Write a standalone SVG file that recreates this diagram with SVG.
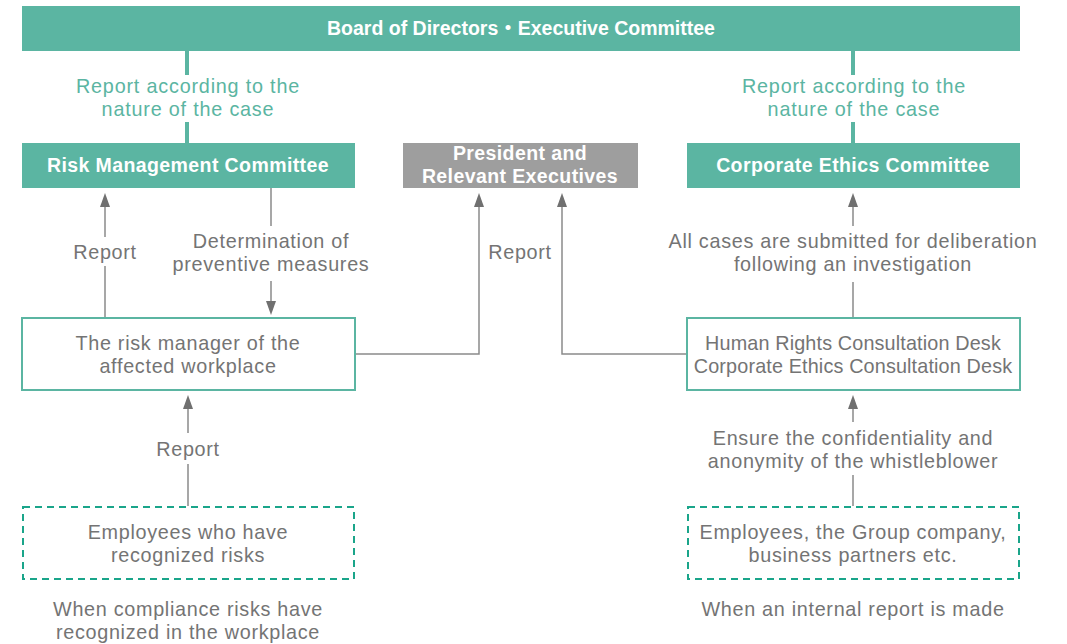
<svg xmlns="http://www.w3.org/2000/svg" width="1067" height="644" viewBox="0 0 1067 644">
<style>
.fill-g{fill:#5bb5a2}
.fill-p{fill:#9e9e9e}
.box{fill:#fff;stroke:#5bb5a2;stroke-width:2}
.dash{fill:#fff;stroke:#1aa58a;stroke-width:2;stroke-dasharray:7 5}
.tw{font-family:"Liberation Sans","Noto Sans CJK JP",sans-serif;font-weight:bold;font-size:19.5px;fill:#fff;text-anchor:middle;letter-spacing:0.4px}
.tb{letter-spacing:0}
.tg{font-family:"Liberation Sans",sans-serif;font-size:19.8px;fill:#747474;text-anchor:middle;letter-spacing:0.7px}
.tn{letter-spacing:0.15px}
.tgr{font-family:"Liberation Sans",sans-serif;font-size:19.8px;fill:#5bb5a2;text-anchor:middle;letter-spacing:0.8px}
.gl{stroke:#5bb5a2;stroke-width:4;fill:none}
.cl{stroke:#8a8a8a;stroke-width:1.5;fill:none}
</style>
<g id="connectors">
<line class="gl" x1="187" y1="51" x2="187" y2="75"/>
<line class="gl" x1="187" y1="122" x2="187" y2="143"/>
<line class="gl" x1="853" y1="51" x2="853" y2="75"/>
<line class="gl" x1="853" y1="122" x2="853" y2="143"/>
<line class="cl" x1="105" y1="237" x2="105" y2="207"/>
<polygon points="100,207 105,193 110,207" fill="#707070"/>
<line class="cl" x1="105" y1="266" x2="105" y2="318"/>
<line class="cl" x1="271" y1="188" x2="271" y2="226"/>
<line class="cl" x1="271" y1="281" x2="271" y2="301"/>
<polygon points="266,301 271,315 276,301" fill="#707070"/>
<polyline class="cl" points="355,354 479,354 479,207"/>
<polygon points="474,207 479,193 484,207" fill="#707070"/>
<polyline class="cl" points="687,354 562,354 562,207"/>
<polygon points="557,207 562,193 567,207" fill="#707070"/>
<line class="cl" x1="853" y1="318" x2="853" y2="282"/>
<line class="cl" x1="853" y1="226" x2="853" y2="207"/>
<polygon points="848,207 853,193 858,207" fill="#707070"/>
<line class="cl" x1="188" y1="506" x2="188" y2="464"/>
<line class="cl" x1="188" y1="433" x2="188" y2="409"/>
<polygon points="183,409 188,395 193,409" fill="#707070"/>
<line class="cl" x1="853" y1="506" x2="853" y2="475"/>
<line class="cl" x1="853" y1="422" x2="853" y2="409"/>
<polygon points="848,409 853,395 858,409" fill="#707070"/>
<text class="tgr" x="188" y="93">Report according to the</text>
<text class="tgr" x="188" y="116">nature of the case</text>
<text class="tgr" x="854" y="93">Report according to the</text>
<text class="tgr" x="854" y="116">nature of the case</text>
<text class="tg" x="105" y="259">Report</text>
<text class="tg" x="271" y="248">Determination of</text>
<text class="tg" x="271" y="271">preventive measures</text>
<text class="tg" x="520" y="259">Report</text>
<text class="tg" x="853" y="248">All cases are submitted for deliberation</text>
<text class="tg" x="853" y="271">following an investigation</text>
<text class="tg" x="188" y="456">Report</text>
<text class="tg" x="853" y="445">Ensure the confidentiality and</text>
<text class="tg" x="853" y="468">anonymity of the whistleblower</text>
</g>
<g id="board">
<rect class="fill-g" x="22" y="6" width="998" height="45"/>
<text class="tw tb" x="521" y="35">Board of Directors・Executive Committee</text>
</g>
<g id="risk-committee">
<rect class="fill-g" x="22" y="143" width="333" height="45"/>
<text class="tw" x="188" y="172">Risk Management Committee</text>
</g>
<g id="president">
<rect class="fill-p" x="403" y="143" width="235" height="45"/>
<text class="tw" x="520" y="160">President and</text>
<text class="tw" x="520" y="183">Relevant Executives</text>
</g>
<g id="ethics-committee">
<rect class="fill-g" x="687" y="143" width="333" height="45"/>
<text class="tw" x="853" y="172">Corporate Ethics Committee</text>
</g>
<g id="risk-manager">
<rect class="box" x="22" y="318" width="333" height="72"/>
<text class="tg" x="188" y="350">The risk manager of the</text>
<text class="tg" x="188" y="373">affected workplace</text>
</g>
<g id="desk">
<rect class="box" x="687" y="318" width="333" height="72"/>
<text class="tg tn" x="853" y="350">Human Rights Consultation Desk</text>
<text class="tg tn" x="853" y="373">Corporate Ethics Consultation Desk</text>
</g>
<g id="employees-risk">
<rect class="dash" x="23" y="507" width="331" height="72"/>
<text class="tg" x="188" y="539">Employees who have</text>
<text class="tg" x="188" y="562">recognized risks</text>
</g>
<g id="employees-group">
<rect class="dash" x="688" y="507" width="331" height="72"/>
<text class="tg" x="853" y="539">Employees, the Group company,</text>
<text class="tg" x="853" y="562">business partners etc.</text>
</g>
<g id="captions">
<text class="tg" x="188" y="616">When compliance risks have</text>
<text class="tg" x="188" y="639">recognized in the workplace</text>
<text class="tg" x="853" y="616">When an internal report is made</text>
</g>
</svg>
